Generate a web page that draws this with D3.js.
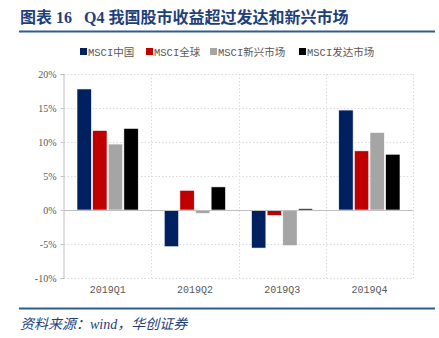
<!DOCTYPE html>
<html><head><meta charset="utf-8">
<script src="https://cdn.jsdelivr.net/npm/d3@7/dist/d3.min.js"></script>
<style>body{margin:0;background:#fff}svg{display:block}</style>
</head><body>
<script>
const categories = ["2019Q1","2019Q2","2019Q3","2019Q4"];
const seriesNames = ["MSCI中国","MSCI全球","MSCI新兴市场","MSCI发达市场"];
const msciChina = [17.8, -5.4, -5.6, 14.7];
const msciWorld = [11.7, 2.9, -0.8, 8.7];
const msciEM = [9.7, -0.5, -5.25, 11.4];
const msciDM = [12.0, 3.4, 0.2, 8.2];
const yTicks = [-10, -5, 0, 5, 10, 15, 20];
const colors = ["#002060","#c00000","#a5a5a5","#000000"];
const series = [msciChina, msciWorld, msciEM, msciDM];

const W = 439, H = 338;
const svg = d3.select("body").append("svg").attr("width", W).attr("height", H);

// Title
svg.append("text").attr("x", 20).attr("y", 23)
  .attr("font-family", "'Liberation Serif','Noto Sans CJK SC',serif")
  .attr("font-weight", "bold").attr("font-size", 16).attr("fill", "#1f3f7a")
  .text("图表 16\u00a0\u00a0\u00a0Q4 我国股市收益超过发达和新兴市场");
svg.append("line").attr("x1", 19).attr("x2", 435).attr("y1", 31.5).attr("y2", 31.5)
  .attr("stroke", "#2e5c96").attr("stroke-width", 2);

const m = {l: 64, r: 413, t: 74, b: 278};
const x = d3.scaleBand().domain(categories).range([m.l, m.r]).paddingInner(0).paddingOuter(0);
const y = d3.scaleLinear().domain([-10, 20]).range([m.b, m.t]);
const xi = d3.scaleBand().domain(d3.range(4)).range([13, x.bandwidth() - 13]).paddingInner(0.08);

// grid horizontal
svg.append("g").selectAll("line").data(yTicks.filter(d => d !== 0)).join("line")
  .attr("x1", m.l).attr("x2", m.r).attr("y1", d => Math.round(y(d)) + 0.5).attr("y2", d => Math.round(y(d)) + 0.5)
  .attr("stroke", "#d9d9d9").attr("stroke-dasharray", "1.5,2");
// grid vertical
svg.append("g").selectAll("line").data(categories.slice(1).map(c => x(c)).concat([m.r])).join("line")
  .attr("x1", d => Math.round(d) + 0.5).attr("x2", d => Math.round(d) + 0.5).attr("y1", m.t).attr("y2", m.b)
  .attr("stroke", "#d9d9d9").attr("stroke-dasharray", "1.5,2");

// bars
series.forEach((vals, si) => {
  svg.append("g").selectAll("rect").data(vals).join("rect")
    .attr("x", (d, i) => x(categories[i]) + xi(si))
    .attr("width", xi.bandwidth())
    .attr("y", d => y(Math.max(0, d)))
    .attr("height", d => Math.abs(y(d) - y(0)))
    .attr("fill", colors[si]).attr("stroke", "#ffffff").attr("stroke-width", 0.6);
});

// zero line
svg.append("line").attr("x1", m.l).attr("x2", m.r).attr("y1", Math.round(y(0)) + 0.5).attr("y2", Math.round(y(0)) + 0.5)
  .attr("stroke", "#bfbfbf").attr("stroke-width", 1);

// y axis
const yAxis = d3.axisLeft(y).tickValues(yTicks).tickFormat(d => d + "%").tickSize(3).tickPadding(4);
const gy = svg.append("g").attr("transform", `translate(${m.l - 0.5},0)`).call(yAxis);
gy.select(".domain").attr("stroke", "#bfbfbf");
gy.selectAll(".tick line").attr("stroke", "#bfbfbf");
gy.selectAll(".tick text").attr("fill", "#595959").attr("font-size", 10)
  .attr("font-family", "'Liberation Serif','DejaVu Serif',serif");

// x labels
const xAxis = d3.axisBottom(x).tickSize(0).tickPadding(8);
const gx = svg.append("g").attr("transform", `translate(0,${m.b})`).call(xAxis);
gx.select(".domain").remove();
gx.selectAll(".tick text").attr("fill", "#595959").attr("font-size", 10)
  .attr("font-family", "'Liberation Mono','DejaVu Sans Mono',monospace");

// legend
const legX = [80, 146, 210, 299];
const lg = svg.append("g").selectAll("g").data(seriesNames).join("g")
  .attr("transform", (d, i) => `translate(${legX[i]},47)`);
lg.append("rect").attr("width", 7).attr("height", 7).attr("y", 1).attr("fill", (d, i) => colors[i]);
lg.append("text").attr("x", 8).attr("y", 8.5).attr("font-size", 10.5).attr("fill", "#595959")
  .attr("font-family", "'Liberation Mono','Noto Sans CJK SC',monospace").text(d => d);

// bottom rule and source
svg.append("line").attr("x1", 19).attr("x2", 435).attr("y1", 308.5).attr("y2", 308.5)
  .attr("stroke", "#2e5c96").attr("stroke-width", 2);
svg.append("text").attr("x", 20).attr("y", 329).attr("font-size", 14).attr("font-style", "italic")
  .attr("fill", "#1f3f7a").attr("font-family", "'Liberation Serif','Noto Sans CJK SC',serif")
  .text("资料来源：wind，华创证券");
</script>
</body></html>
